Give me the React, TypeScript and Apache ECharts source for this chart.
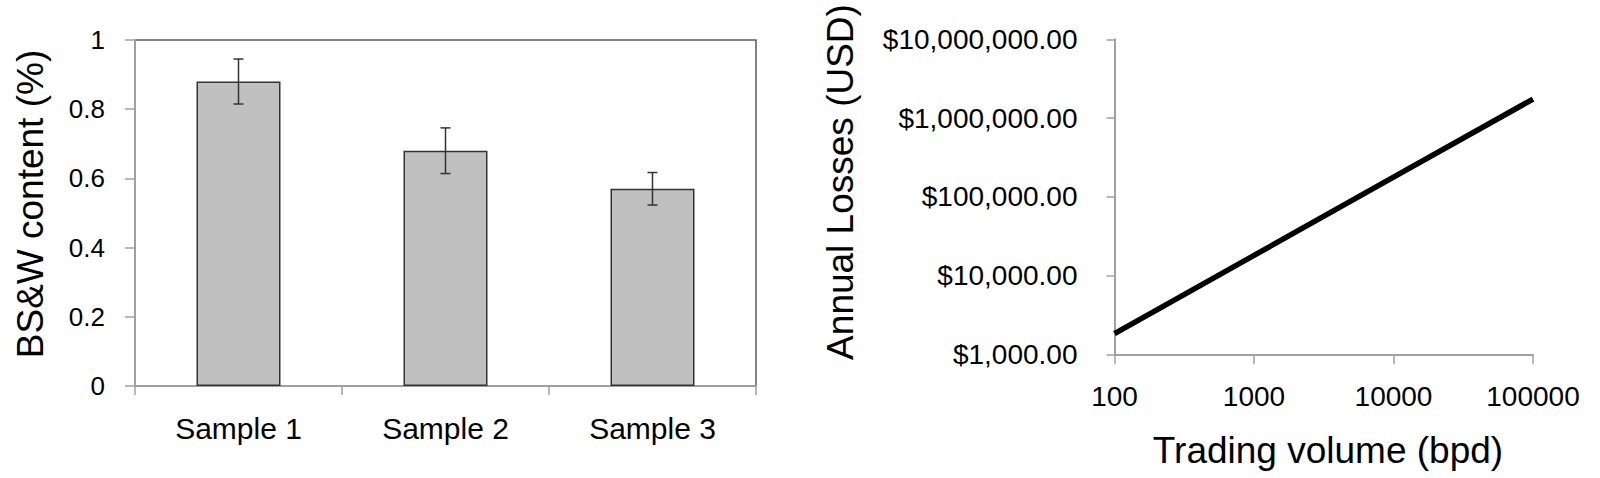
import React, { useEffect, useRef } from "react";
import * as echarts from "echarts";

const categories = ["Sample 1", "Sample 2", "Sample 3"];
const bswValues = [0.88, 0.68, 0.57];
const bswErrors = [0.065, 0.066, 0.047];

const tradingVolume = [100, 1000, 10000, 100000];
const annualLosses = [1830, 18000, 178000, 1740000];

const FONT = "'Liberation Sans', Arial, sans-serif";
const AXIS_GRAY = "#A0A0A0";

function fmtMoney(v: number): string {
  const r = Math.round(v);
  return "$" + r.toLocaleString("en-US", { minimumFractionDigits: 2, maximumFractionDigits: 2 });
}

export default function App() {
  const ref = useRef<HTMLDivElement>(null);

  useEffect(() => {
    if (!ref.current) return;
    const chart = echarts.init(ref.current, undefined, { renderer: "svg" });

    const errData = bswValues.map((v, i) => [i, v - bswErrors[i], v + bswErrors[i]]);
    const lineData = tradingVolume.map((x, i) => [x, annualLosses[i]]);

    const option: any = {
      animation: false,
      backgroundColor: "#ffffff",
      textStyle: { fontFamily: FONT, color: "#000" },
      grid: [
        {
          left: 135,
          top: 40,
          width: 621,
          height: 346,
          show: true,
          borderColor: "#595959",
          borderWidth: 1.5,
          backgroundColor: "transparent",
        },
        {
          left: 1114.5,
          top: 39.3,
          width: 418.5,
          height: 315,
        },
      ],
      xAxis: [
        {
          type: "category",
          gridIndex: 0,
          data: categories,
          boundaryGap: true,
          axisLine: { show: true, lineStyle: { color: AXIS_GRAY, width: 2 } },
          axisTick: { show: true, length: 9, lineStyle: { color: AXIS_GRAY, width: 1.5 } },
          axisLabel: {
            fontFamily: FONT,
            fontSize: 30,
            color: "#000",
            margin: 42,
            verticalAlign: "middle",
          },
          splitLine: { show: false },
        },
        {
          type: "log",
          logBase: 10,
          gridIndex: 1,
          min: 100,
          max: 100000,
          axisLine: { show: true, lineStyle: { color: AXIS_GRAY, width: 2 } },
          axisTick: { show: true, length: 10, lineStyle: { color: AXIS_GRAY, width: 1.5 } },
          axisLabel: {
            fontFamily: FONT,
            fontSize: 28,
            color: "#000",
            margin: 42,
            verticalAlign: "middle",
            formatter: (v: number) => String(Math.round(v)),
          },
          minorTick: { show: false },
          splitLine: { show: false },
        },
      ],
      yAxis: [
        {
          type: "value",
          gridIndex: 0,
          min: 0,
          max: 1,
          interval: 0.2,
          axisLine: { show: true, lineStyle: { color: AXIS_GRAY, width: 2 } },
          axisTick: { show: true, length: 10, lineStyle: { color: AXIS_GRAY, width: 1.5 } },
          axisLabel: {
            fontFamily: FONT,
            fontSize: 26,
            color: "#000",
            margin: 30,
            formatter: (v: number) => String(Math.round(v * 10) / 10),
          },
          splitLine: { show: false },
        },
        {
          type: "log",
          logBase: 10,
          gridIndex: 1,
          min: 1000,
          max: 10000000,
          axisLine: { show: true, lineStyle: { color: AXIS_GRAY, width: 2 } },
          axisTick: { show: true, length: 8, lineStyle: { color: AXIS_GRAY, width: 1.5 } },
          axisLabel: {
            fontFamily: FONT,
            fontSize: 28,
            color: "#000",
            margin: 37,
            formatter: (v: number) => fmtMoney(v),
          },
          minorTick: { show: false },
          splitLine: { show: false },
        },
      ],
      series: [
        {
          type: "bar",
          xAxisIndex: 0,
          yAxisIndex: 0,
          data: bswValues,
          barWidth: 84,
          itemStyle: { color: "#C0C0C0", borderColor: "#333333", borderWidth: 1.5 },
          z: 2,
        },
        {
          type: "custom",
          xAxisIndex: 0,
          yAxisIndex: 0,
          data: errData,
          encode: { x: 0, y: [1, 2] },
          z: 5,
          renderItem: (params: any, api: any) => {
            const idx = api.value(0);
            const lo = api.value(1);
            const hi = api.value(2);
            const top = api.coord([idx, hi]);
            const bot = api.coord([idx, lo]);
            const hw = 5;
            const style = { stroke: "#333333", lineWidth: 1.5 };
            return {
              type: "group",
              children: [
                { type: "line", shape: { x1: top[0], y1: top[1], x2: bot[0], y2: bot[1] }, style },
                { type: "line", shape: { x1: top[0] - hw, y1: top[1], x2: top[0] + hw, y2: top[1] }, style },
                { type: "line", shape: { x1: bot[0] - hw, y1: bot[1], x2: bot[0] + hw, y2: bot[1] }, style },
              ],
            };
          },
        },
        {
          type: "line",
          xAxisIndex: 1,
          yAxisIndex: 1,
          data: lineData,
          symbol: "none",
          lineStyle: { color: "#000000", width: 5.5 },
          z: 3,
        },
      ],
      graphic: [
        {
          type: "text",
          x: 30,
          y: 204,
          rotation: Math.PI / 2,
          style: {
            text: "BS&W content (%)",
            fontFamily: FONT,
            fontSize: 37,
            fill: "#000",
            textAlign: "center",
            textVerticalAlign: "middle",
          },
        },
        {
          type: "text",
          x: 840,
          y: 182,
          rotation: Math.PI / 2,
          style: {
            text: "Annual Losses (USD)",
            fontFamily: FONT,
            fontSize: 37,
            fill: "#000",
            textAlign: "center",
            textVerticalAlign: "middle",
          },
        },
        {
          type: "text",
          x: 1328,
          y: 450,
          style: {
            text: "Trading volume (bpd)",
            fontFamily: FONT,
            fontSize: 37,
            fill: "#000",
            textAlign: "center",
            textVerticalAlign: "middle",
          },
        },
      ],
    };

    chart.setOption(option);
    return () => {
      chart.dispose();
    };
  }, []);

  return (
    <div
      ref={ref}
      style={{ position: "fixed", left: 0, top: 0, width: 1600, height: 478, background: "#fff" }}
    />
  );
}
